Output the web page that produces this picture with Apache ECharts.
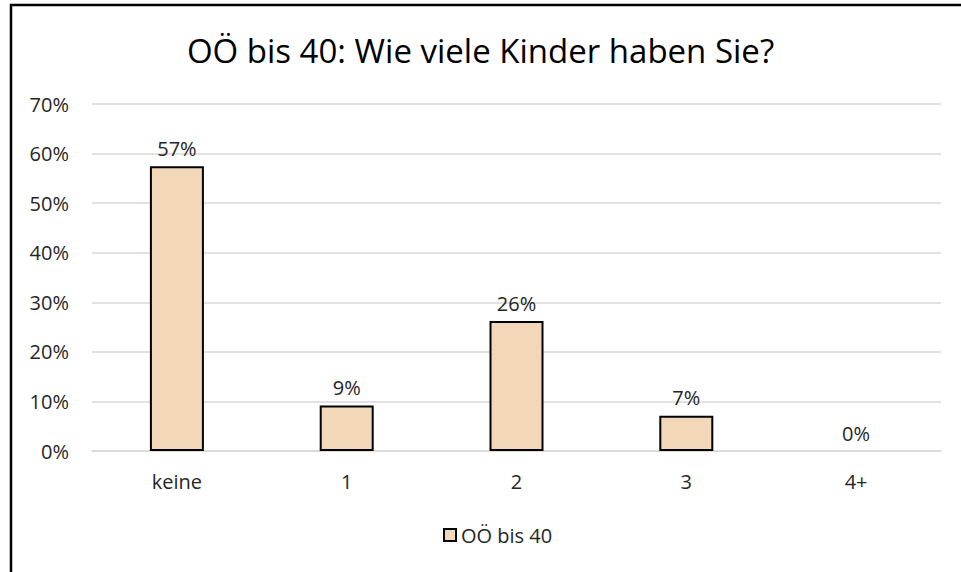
<!DOCTYPE html>
<html>
<head>
<meta charset="utf-8">
<script src="https://cdn.jsdelivr.net/npm/echarts@6/dist/echarts.min.js"></script>
<style>
  html, body { margin: 0; padding: 0; background: #fff; }
  #chart { width: 961px; height: 572px; }
</style>
</head>
<body>
<div id="chart"></div>
<script>
const categories = ['keine', '1', '2', '3', '4+'];
const seriesName = 'OÖ bis 40';
const values = [57.45, 9.2, 26.2, 7.1, 0];
const titleText = 'OÖ bis 40: Wie viele Kinder haben Sie?';

let chartDom = document.getElementById('chart');
let chart = echarts.init(chartDom, null, {renderer: 'svg'});
let option;

const font = 'Open Sans';

// zero bars get no outline, like the original
const barData = values.map(function (v) {
  return v === 0 ? {value: v, itemStyle: {borderWidth: 0}} : v;
});

option = {
  animation: false,
  title: {
    text: titleText,
    left: 'center',
    top: 29,
    textStyle: {
      fontFamily: font,
      fontSize: 33,
      fontWeight: 'normal',
      color: '#000'
    }
  },
  graphic: [
    {
      type: 'rect',
      shape: {x: 11, y: 5, width: 1000, height: 700},
      style: {fill: 'none', stroke: '#000', lineWidth: 2.5},
      silent: true
    }
  ],
  legend: {
    bottom: 22,
    left: 438,
    itemWidth: 12,
    itemHeight: 12,
    icon: 'rect',
    textStyle: {
      fontFamily: font,
      fontSize: 20,
      color: '#262626'
    },
    data: [seriesName]
  },
  grid: {
    left: 92,
    right: 20,
    top: 104,
    bottom: 121,
    containLabel: false
  },
  xAxis: {
    type: 'category',
    data: categories,
    axisTick: {show: false},
    axisLine: {lineStyle: {color: '#D9D9D9', width: 1.5}},
    axisLabel: {
      fontFamily: font,
      fontSize: 20,
      color: '#262626',
      margin: 20
    }
  },
  yAxis: {
    type: 'value',
    min: 0,
    max: 70,
    interval: 10,
    axisLine: {show: false},
    axisTick: {show: false},
    splitLine: {lineStyle: {color: '#D9D9D9', width: 1.5}},
    axisLabel: {
      fontFamily: font,
      fontSize: 20,
      color: '#262626',
      margin: 23,
      formatter: '{value}%'
    }
  },
  series: [
    {
      name: seriesName,
      type: 'bar',
      data: barData,
      barWidth: 54,
      itemStyle: {
        color: '#F2D8B9',
        borderColor: '#000',
        borderWidth: 2
      },
      label: {
        show: true,
        position: 'top',
        distance: 8,
        fontFamily: font,
        fontSize: 20,
        color: '#262626',
        formatter: function (p) {
          return Math.round(p.value) + '%';
        }
      }
    }
  ]
};

chart.setOption(option);
window.addEventListener('resize', function () {
  chart.resize();
});
</script>
</body>
</html>
